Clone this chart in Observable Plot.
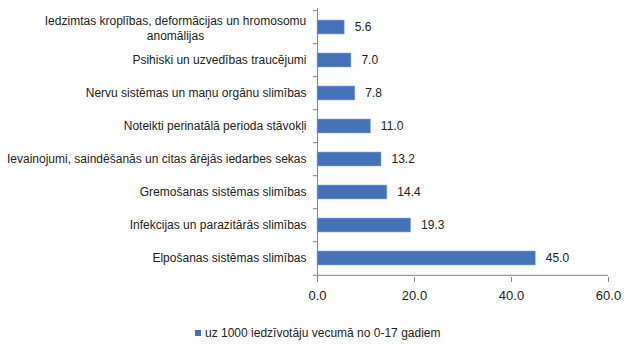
<!DOCTYPE html>
<html>
<head>
<meta charset="utf-8">
<script src="https://cdn.jsdelivr.net/npm/d3@7"></script>
<script src="https://cdn.jsdelivr.net/npm/@observablehq/plot@0.6"></script>
<style>
  html, body { margin: 0; padding: 0; background: #fff; }
  body { width: 630px; height: 354px; overflow: hidden; font-family: "Liberation Sans", Arial, sans-serif; }
  #legend { position: absolute; left: 195px; top: 326px; font-size: 12px; color: #222; display: flex; align-items: center; }
  #legend .sw { width: 6px; height: 6px; background: #4372b8; margin-right: 4px; }
</style>
</head>
<body>
<div id="chart"></div>
<div id="legend"><span class="sw"></span><span id="legtext"></span></div>
<script>
const categories = [
  "Iedzimtas kroplības, deformācijas un hromosomu\nanomālijas",
  "Psihiski un uzvedības traucējumi",
  "Nervu sistēmas un maņu orgānu slimības",
  "Noteikti perinatālā perioda stāvokļi",
  "Ievainojumi, saindēšanās un citas ārējās iedarbes sekas",
  "Gremošanas sistēmas slimības",
  "Infekcijas un parazitārās slimības",
  "Elpošanas sistēmas slimības"
];
const values = [5.6, 7.0, 7.8, 11.0, 13.2, 14.4, 19.3, 45.0];
const xTicks = [0, 20, 40, 60];
const seriesName = "uz 1000 iedzīvotāju vecumā no 0-17 gadiem";

document.getElementById("legtext").textContent = seriesName;

const data = categories.map((c, i) => ({category: c, value: values[i]}));
const step = (277 - 8) / categories.length;
const axisColor = "#868686";

const chart = Plot.plot({
  width: 630,
  height: 315,
  marginLeft: 317,
  marginRight: 22,
  marginTop: 8,
  marginBottom: 38,
  style: {fontFamily: "Liberation Sans, Arial, sans-serif", fontSize: "12px", color: "#222"},
  x: {domain: [0, 60], ticks: xTicks, tickFormat: d => d.toFixed(1)},
  y: {domain: categories, paddingInner: 0.58, paddingOuter: 0.29, axis: null},
  marks: [
    Plot.barX(data, {x: "value", y: "category", fill: "#4372b8", stroke: "#8fb0dd", strokeWidth: 0.6}),
    Plot.text(data, {x: "value", y: "category", text: d => d.value.toFixed(1), textAnchor: "start", dx: 10, fill: "#222", fontSize: 12}),
    // category labels
    Plot.text(data.slice(1), {x: 0, y: "category", text: "category", textAnchor: "end", dx: -11, fill: "#222", fontSize: 12}),
    Plot.text(data.slice(0, 1), {x: 0, y: "category", text: "category", textAnchor: "middle", dx: -142, lineHeight: 1.25, fill: "#222", fontSize: 12}),
    // y axis line and boundary ticks
    Plot.ruleX([0], {stroke: axisColor}),
    Plot.ruleY(categories, {y: d => d, x1: 0, x2: -0.85, dy: -step / 2, stroke: axisColor}),
    Plot.ruleY(categories.slice(-1), {y: d => d, x1: 0, x2: -0.85, dy: step / 2, stroke: axisColor}),
    // x axis
    Plot.ruleY([0], {y: () => categories[categories.length - 1], x1: 0, x2: 60, dy: step / 2, stroke: axisColor}),
    Plot.axisX({ticks: xTicks, tickFormat: d => d.toFixed(1), tickSize: 5, tickPadding: 8, stroke: axisColor, fill: "#222", fontSize: 13, label: null})
  ]
});
document.getElementById("chart").appendChild(chart);
</script>
</body>
</html>
